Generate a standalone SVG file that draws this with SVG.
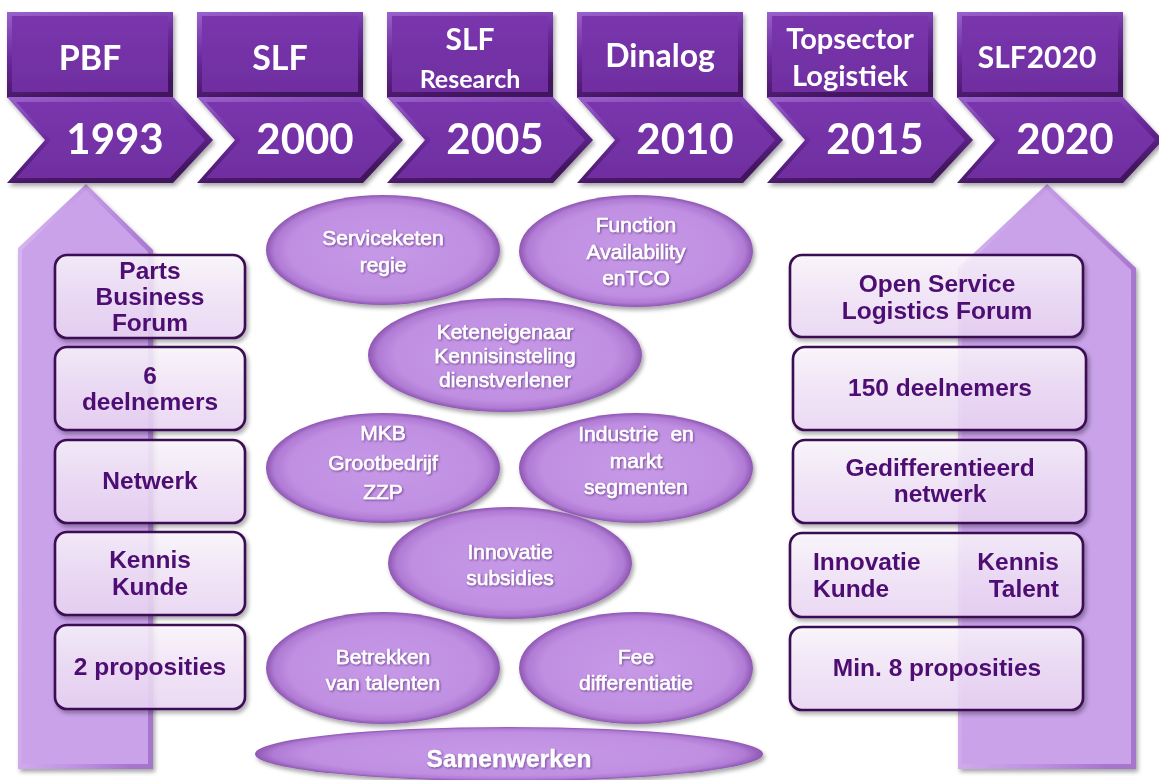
<svg xmlns="http://www.w3.org/2000/svg" width="1159" height="780" viewBox="0 0 1159 780">
  <defs>
    <linearGradient id="bevelDark" x1="0" y1="0" x2="0.3" y2="1">
      <stop offset="0" stop-color="#9a62cc"/>
      <stop offset="0.5" stop-color="#6a2a9c"/>
      <stop offset="1" stop-color="#43165f"/>
    </linearGradient>
    <linearGradient id="faceDark" x1="0" y1="0" x2="0" y2="1">
      <stop offset="0" stop-color="#7a36ad"/>
      <stop offset="1" stop-color="#6f2ea0"/>
    </linearGradient>
    <linearGradient id="bevelLight" x1="0" y1="0" x2="1" y2="0.2">
      <stop offset="0" stop-color="#d6b6ef"/>
      <stop offset="0.6" stop-color="#bf92e2"/>
      <stop offset="1" stop-color="#a676cc"/>
    </linearGradient>
    <linearGradient id="boxFill" x1="0" y1="0" x2="0" y2="1">
      <stop offset="0" stop-color="#fefaff"/>
      <stop offset="0.45" stop-color="#f6e9fc"/>
      <stop offset="1" stop-color="#eed9f8"/>
    </linearGradient>
    <radialGradient id="ovalFill" cx="0.5" cy="0.5" r="0.5">
      <stop offset="0" stop-color="#c699e7"/>
      <stop offset="0.8" stop-color="#c08fe2"/>
      <stop offset="0.93" stop-color="#b07bd4"/>
      <stop offset="1" stop-color="#8e57b2"/>
    </radialGradient>
    <filter id="shadow" x="-10%" y="-10%" width="130%" height="130%">
      <feDropShadow dx="2" dy="3" stdDeviation="2" flood-color="#000" flood-opacity="0.35"/>
    </filter>
    <filter id="txtShadow" x="-10%" y="-20%" width="120%" height="150%">
      <feDropShadow dx="1" dy="1" stdDeviation="0.8" flood-color="#3a0c5a" flood-opacity="0.6"/>
    </filter>
    <style>
      .bevel { fill: url(#bevelDark); }
      .face { fill: url(#faceDark); }
      .head { font-family: Lato, "Open Sans", "Liberation Sans", sans-serif; font-weight: bold; fill: #ffffff; text-anchor: middle; }
      .year { font-family: Lato, "Open Sans", "Liberation Sans", sans-serif; font-weight: bold; fill: #ffffff; text-anchor: middle; font-size: 42px; }
      .arrow { fill: url(#bevelLight); }
      .arrowFace { fill: #c9a2ea; }
      .box { fill: url(#boxFill); fill-opacity: 0.82; stroke: #3b0e52; stroke-width: 2.6; }
      .btxt { font-family: "Liberation Sans", Arial, sans-serif; font-weight: bold; font-size: 24.5px; fill: #4e0f72; }
      .mid { text-anchor: middle; }
      .start { text-anchor: start; }
      .end { text-anchor: end; }
      .oval { fill: url(#ovalFill); }
      .otxt { font-family: "Liberation Sans", Arial, sans-serif; font-size: 21px; fill: #ffffff; stroke: #ffffff; stroke-width: 0.55; text-anchor: middle; }
      .big { font-size: 24.5px; font-weight: bold; stroke-width: 0.3; }
    </style>
  </defs>

  <!-- upward arrows behind the columns -->
  <g id="arrow-left" filter="url(#shadow)">
    <polygon class="arrow" points="18,248 86,184 153,250 153,769 18,769"/>
    <polygon class="arrowFace" points="22,250 86,190 148,252 148,764 22,764"/>
  </g>
  <g id="arrow-right" filter="url(#shadow)">
    <polygon class="arrow" points="958,268 1047,184 1136,268 1136,769 958,769"/>
    <polygon class="arrowFace" points="962,270 1047,190 1131,270 1131,764 962,764"/>
  </g>

  <!-- timeline chevrons -->
  <g id="tl-1993" filter="url(#shadow)">
    <rect class="bevel" x="7" y="12" width="166" height="86"/>
    <rect class="face" x="12" y="16" width="156" height="76"/>
    <polygon class="bevel" points="7,97 173,97 213,140 173,183 7,183 45,140"/>
    <polygon class="face" points="16,102 170,102 205,140 170,178 16,178 51,140"/>
    <text class="head" x="90" y="70" font-size="34">PBF</text>
    <text class="year" x="115" y="154">1993</text>
  </g>
  <g id="tl-2000" filter="url(#shadow)">
    <rect class="bevel" x="197" y="12" width="166" height="86"/>
    <rect class="face" x="202" y="16" width="156" height="76"/>
    <polygon class="bevel" points="197,97 363,97 403,140 363,183 197,183 235,140"/>
    <polygon class="face" points="206,102 360,102 395,140 360,178 206,178 241,140"/>
    <text class="head" x="280" y="70" font-size="34">SLF</text>
    <text class="year" x="305" y="154">2000</text>
  </g>
  <g id="tl-2005" filter="url(#shadow)">
    <rect class="bevel" x="387" y="12" width="166" height="86"/>
    <rect class="face" x="392" y="16" width="156" height="76"/>
    <polygon class="bevel" points="387,97 553,97 593,140 553,183 387,183 425,140"/>
    <polygon class="face" points="396,102 550,102 585,140 550,178 396,178 431,140"/>
    <text class="head" x="470" y="50" font-size="30">SLF</text>
    <text class="head" x="470" y="88" font-size="25">Research</text>
    <text class="year" x="495" y="154">2005</text>
  </g>
  <g id="tl-2010" filter="url(#shadow)">
    <rect class="bevel" x="577" y="12" width="166" height="86"/>
    <rect class="face" x="582" y="16" width="156" height="76"/>
    <polygon class="bevel" points="577,97 743,97 783,140 743,183 577,183 615,140"/>
    <polygon class="face" points="586,102 740,102 775,140 740,178 586,178 621,140"/>
    <text class="head" x="660" y="67" font-size="32">Dinalog</text>
    <text class="year" x="685" y="154">2010</text>
  </g>
  <g id="tl-2015" filter="url(#shadow)">
    <rect class="bevel" x="767" y="12" width="166" height="86"/>
    <rect class="face" x="772" y="16" width="156" height="76"/>
    <polygon class="bevel" points="767,97 933,97 973,140 933,183 767,183 805,140"/>
    <polygon class="face" points="776,102 930,102 965,140 930,178 776,178 811,140"/>
    <text class="head" x="850" y="49" font-size="29">Topsector</text>
    <text class="head" x="850" y="86" font-size="29">Logistiek</text>
    <text class="year" x="875" y="154">2015</text>
  </g>
  <g id="tl-2020" filter="url(#shadow)">
    <rect class="bevel" x="957" y="12" width="166" height="86"/>
    <rect class="face" x="962" y="16" width="156" height="76"/>
    <polygon class="bevel" points="957,97 1123,97 1163,140 1123,183 957,183 995,140"/>
    <polygon class="face" points="966,102 1120,102 1155,140 1120,178 966,178 1001,140"/>
    <text class="head" x="1037" y="68" font-size="30">SLF2020</text>
    <text class="year" x="1065" y="154">2020</text>
  </g>

  <!-- left column: 1993 -->
  <g id="l-forum" filter="url(#shadow)">
    <rect class="box" x="55" y="255" width="190" height="83" rx="12"/>
    <text class="btxt mid" x="150" y="279">Parts</text>
    <text class="btxt mid" x="150" y="305">Business</text>
    <text class="btxt mid" x="150" y="331">Forum</text>
  </g>
  <g id="l-deelnemers" filter="url(#shadow)">
    <rect class="box" x="55" y="347" width="190" height="83" rx="12"/>
    <text class="btxt mid" x="150" y="384">6</text>
    <text class="btxt mid" x="150" y="410">deelnemers</text>
  </g>
  <g id="l-netwerk" filter="url(#shadow)">
    <rect class="box" x="55" y="440" width="190" height="83" rx="12"/>
    <text class="btxt mid" x="150" y="489">Netwerk</text>
  </g>
  <g id="l-kennis" filter="url(#shadow)">
    <rect class="box" x="55" y="532" width="190" height="83" rx="12"/>
    <text class="btxt mid" x="150" y="568">Kennis</text>
    <text class="btxt mid" x="150" y="595">Kunde</text>
  </g>
  <g id="l-proposities" filter="url(#shadow)">
    <rect class="box" x="55" y="625" width="190" height="84" rx="12"/>
    <text class="btxt mid" x="150" y="675">2 proposities</text>
  </g>

  <!-- right column: 2020 -->
  <g id="r-forum" filter="url(#shadow)">
    <rect class="box" x="790" y="255" width="293" height="82" rx="12"/>
    <text class="btxt mid" x="937" y="292">Open Service</text>
    <text class="btxt mid" x="937" y="319">Logistics Forum</text>
  </g>
  <g id="r-deelnemers" filter="url(#shadow)">
    <rect class="box" x="793" y="347" width="293" height="83" rx="12"/>
    <text class="btxt mid" x="940" y="396">150 deelnemers</text>
  </g>
  <g id="r-netwerk" filter="url(#shadow)">
    <rect class="box" x="793" y="440" width="293" height="83" rx="12"/>
    <text class="btxt mid" x="940" y="476">Gedifferentieerd</text>
    <text class="btxt mid" x="940" y="502">netwerk</text>
  </g>
  <g id="r-kennis" filter="url(#shadow)">
    <rect class="box" x="790" y="533" width="293" height="84" rx="12"/>
    <text class="btxt start" x="813" y="570">Innovatie</text>
    <text class="btxt start" x="813" y="597">Kunde</text>
    <text class="btxt end" x="1059" y="570">Kennis</text>
    <text class="btxt end" x="1059" y="597">Talent</text>
  </g>
  <g id="r-proposities" filter="url(#shadow)">
    <rect class="box" x="790" y="627" width="293" height="83" rx="12"/>
    <text class="btxt mid" x="937" y="676">Min. 8 proposities</text>
  </g>

  <!-- central themes -->
  <g id="o-regie" filter="url(#shadow)">
    <ellipse class="oval" cx="383" cy="250" rx="117" ry="55"/>
    <text class="otxt" x="383" y="245" filter="url(#txtShadow)">Serviceketen</text>
    <text class="otxt" x="383" y="272" filter="url(#txtShadow)">regie</text>
  </g>
  <g id="o-function" filter="url(#shadow)">
    <ellipse class="oval" cx="636" cy="251" rx="117" ry="56"/>
    <text class="otxt" x="636" y="232" filter="url(#txtShadow)">Function</text>
    <text class="otxt" x="636" y="259" filter="url(#txtShadow)">Availability</text>
    <text class="otxt" x="636" y="285" filter="url(#txtShadow)">enTCO</text>
  </g>
  <g id="o-keten" filter="url(#shadow)">
    <ellipse class="oval" cx="505" cy="355" rx="137" ry="57"/>
    <text class="otxt" x="505" y="339" filter="url(#txtShadow)">Keteneigenaar</text>
    <text class="otxt" x="505" y="363" filter="url(#txtShadow)">Kennisinsteling</text>
    <text class="otxt" x="505" y="387" filter="url(#txtShadow)">dienstverlener</text>
  </g>
  <g id="o-mkb" filter="url(#shadow)">
    <ellipse class="oval" cx="383" cy="468" rx="117" ry="55"/>
    <text class="otxt" x="383" y="440" filter="url(#txtShadow)">MKB</text>
    <text class="otxt" x="383" y="470" filter="url(#txtShadow)">Grootbedrijf</text>
    <text class="otxt" x="383" y="499" filter="url(#txtShadow)">ZZP</text>
  </g>
  <g id="o-industrie" filter="url(#shadow)">
    <ellipse class="oval" cx="636" cy="468" rx="117" ry="55"/>
    <text class="otxt" x="636" y="441" filter="url(#txtShadow)" xml:space="preserve">Industrie  en</text>
    <text class="otxt" x="636" y="468" filter="url(#txtShadow)">markt</text>
    <text class="otxt" x="636" y="494" filter="url(#txtShadow)">segmenten</text>
  </g>
  <g id="o-subsidies" filter="url(#shadow)">
    <ellipse class="oval" cx="510" cy="563" rx="122" ry="56"/>
    <text class="otxt" x="510" y="559" filter="url(#txtShadow)">Innovatie</text>
    <text class="otxt" x="510" y="585" filter="url(#txtShadow)">subsidies</text>
  </g>
  <g id="o-talenten" filter="url(#shadow)">
    <ellipse class="oval" cx="383" cy="668" rx="117" ry="56"/>
    <text class="otxt" x="383" y="664" filter="url(#txtShadow)">Betrekken</text>
    <text class="otxt" x="383" y="690" filter="url(#txtShadow)">van talenten</text>
  </g>
  <g id="o-fee" filter="url(#shadow)">
    <ellipse class="oval" cx="636" cy="668" rx="117" ry="56"/>
    <text class="otxt" x="636" y="664" filter="url(#txtShadow)">Fee</text>
    <text class="otxt" x="636" y="690" filter="url(#txtShadow)">differentiatie</text>
  </g>
  <g id="o-samenwerken" filter="url(#shadow)">
    <ellipse class="oval" cx="509" cy="754" rx="254" ry="27"/>
    <text class="otxt big" x="509" y="767" filter="url(#txtShadow)">Samenwerken</text>
  </g>

  <!-- no connectors in this layout -->
  <g id="connectors"/>
</svg>
